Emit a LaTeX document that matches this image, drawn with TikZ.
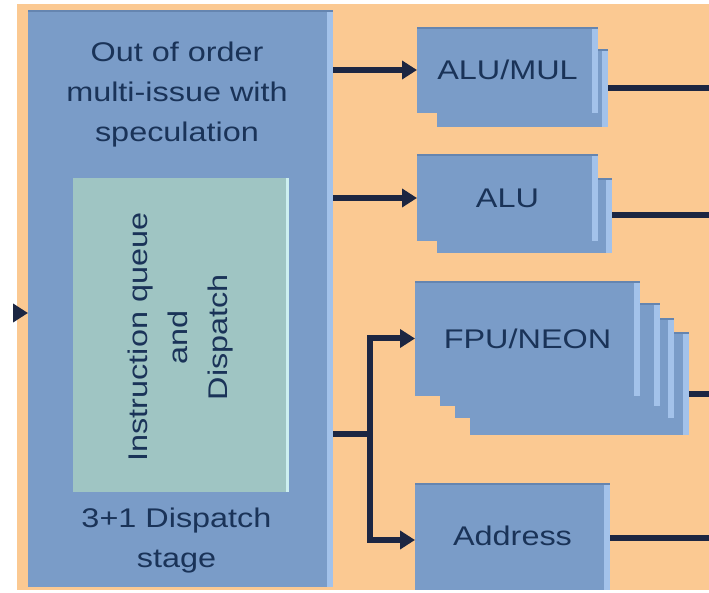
\documentclass[tikz,border=0pt]{standalone}
\usepackage{fontspec}
\setmainfont[FakeStretch=1.2]{Liberation Sans}
\usetikzlibrary{positioning,arrows.meta}
\definecolor{peach}{HTML}{FBC992}
\definecolor{boxblue}{HTML}{7A9CC8}
\definecolor{boxedge}{HTML}{A3C2EA}
\definecolor{boxtop}{HTML}{6585B0}
\definecolor{queuegreen}{HTML}{9FC5C3}
\definecolor{queueedge}{HTML}{CDEFF0}
\definecolor{ink}{HTML}{1A3358}
\definecolor{wire}{HTML}{1C2642}

\begin{document}
\begin{tikzpicture}[x=1pt,y=-1pt,
			unit/.style={rectangle, fill=boxblue, inner sep=0pt, outer sep=0pt, text=ink,
				font=\fontsize{27}{40}\selectfont,
				path picture={
					\fill[boxedge] ([xshift=-6pt]path picture bounding box.north east) rectangle (path picture bounding box.south east);
					\fill[boxtop] (path picture bounding box.north west) rectangle ([yshift=-2pt]path picture bounding box.north east);}},
			queuebox/.style={rectangle, fill=queuegreen, inner sep=0pt, outer sep=0pt,
				path picture={
					\fill[queueedge] ([xshift=-3pt]path picture bounding box.north east) rectangle (path picture bounding box.south east);}},
			txt/.style={text=ink, align=center, inner sep=0pt, font=\fontsize{27}{40}\selectfont},
			wireline/.style={draw=wire, line width=6pt},
			flow/.style={wireline, -{Triangle[length=15pt,width=18pt]}},
			]
			\useasboundingbox (0,0) rectangle (709,593);
			\fill[peach] (17,4) rectangle (709,590);

			%Nodes
			\node[unit, minimum width=305pt, minimum height=577pt] (main) at (180.5,298.5) {};
			\node[queuebox, minimum width=216pt, minimum height=314pt] (queue) at (181,335) {};
			\node[txt] (title) at (177,95) {Out of order\\multi-issue with\\speculation};
			\node[txt, rotate=90] (qtext) at (181,337) {Instruction queue\\and\\Dispatch};
			\node[txt] (stage) at (176.5,541) {3+1 Dispatch\\stage};

			\node[unit, minimum width=171pt, minimum height=78pt] (alumulb) at (522.5,88) {};
			\node[unit, minimum width=181pt, minimum height=86pt] (alumul) at (507.5,70) {ALU/MUL};

			\node[unit, minimum width=175pt, minimum height=75pt] (alub) at (524.5,215.5) {};
			\node[unit, minimum width=181pt, minimum height=87pt] (alu) at (507.5,198) {ALU};

			\node[unit, minimum width=219pt, minimum height=103pt] (fpu3) at (579.5,383.5) {};
			\node[unit, minimum width=219pt, minimum height=100pt] (fpu2) at (564.5,368) {};
			\node[unit, minimum width=220pt, minimum height=103pt] (fpu1) at (550,354.5) {};
			\node[unit, minimum width=225pt, minimum height=115pt] (fpu) at (527.5,338.5) {FPU/NEON};

			\node[unit, minimum width=195pt, minimum height=107pt] (addr) at (512.5,536) {Address};

			%Coordinates
			\coordinate (inp) at (17,313);
			\coordinate (rim) at (709,0);
			\coordinate (split) at (370,434);

			%Connectors
			\draw[flow] (inp) -- (main.west |- inp);
			\draw[flow] (main.east |- alumul.west) -- (alumul.west);
			\draw[flow] (main.east |- alu.west) -- (alu.west);
			\draw[wireline] (main.east |- split) -- (split);
			\draw[flow] (split) |- (fpu.west);
			\draw[flow] (split) |- ([yshift=-4pt]addr.west);

			\draw[wireline] (alumulb.east) -- (alumulb.east -| rim);
			\draw[wireline] (alub.east) -- (alub.east -| rim);
			\draw[wireline] ([yshift=-10pt]fpu3.east) -- ([yshift=-10pt]fpu3.east -| rim);
			\draw[wireline] ([yshift=-2pt]addr.east) -- ([yshift=-2pt]addr.east -| rim);
		\end{tikzpicture}
\end{document}
